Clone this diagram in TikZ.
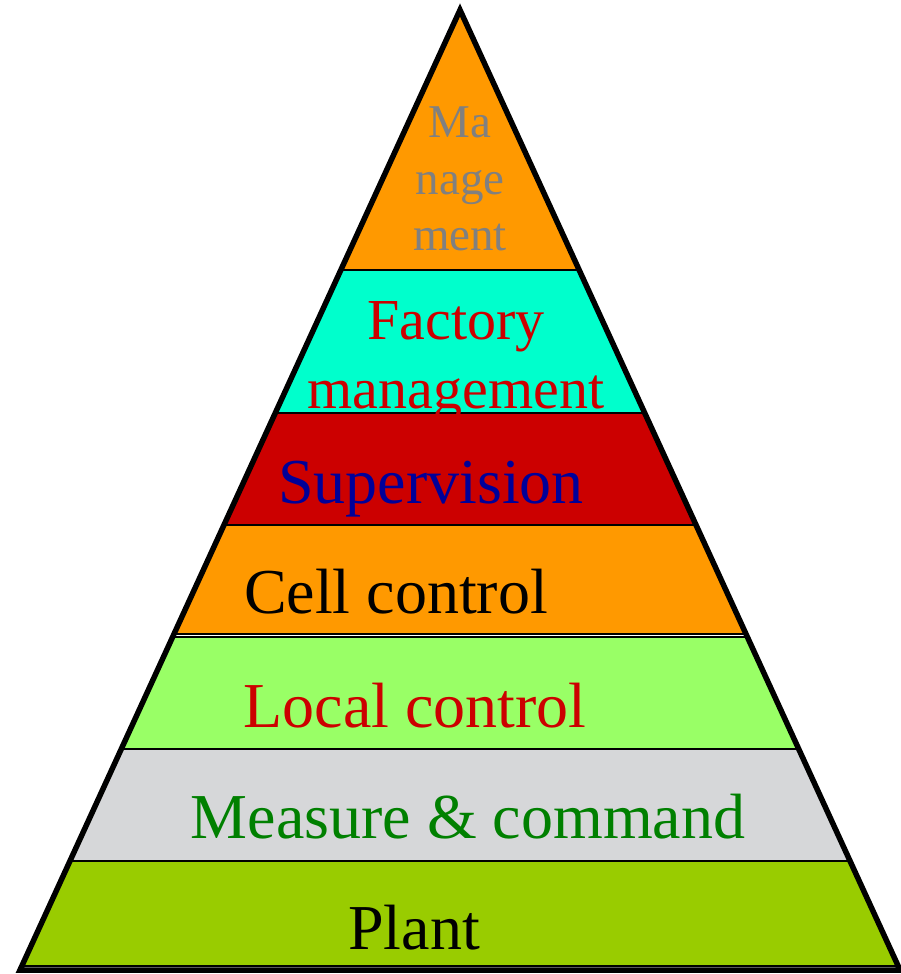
\documentclass[tikz,border=0pt]{standalone}
\usepackage{fontspec}
\setmainfont{Liberation Serif}
\definecolor{bandorange}{HTML}{FF9900}
\definecolor{bandcyan}{HTML}{00FFCC}
\definecolor{bandred}{HTML}{CC0000}
\definecolor{bandlime}{HTML}{99FF66}
\definecolor{bandgrey}{HTML}{D6D7D9}
\definecolor{bandolive}{HTML}{99CC00}
\definecolor{txtgrey}{HTML}{808080}
\definecolor{txtred}{HTML}{CC0000}
\definecolor{txtblue}{HTML}{000099}
\definecolor{txtgreen}{HTML}{008000}
\begin{document}
\begin{tikzpicture}[x=1pt,y=-1pt,
  band/.style={draw=black,line width=1.3pt},
  lbl/.style={inner sep=0pt,anchor=base,font=\fontsize{64}{70}\selectfont},
  lblsmall/.style={inner sep=0pt,anchor=base,font=\fontsize{47}{52}\selectfont},
  lblmid/.style={inner sep=0pt,anchor=base,font=\fontsize{58}{64}\selectfont},
  outline/.style={draw=black,line width=5.5pt,line join=miter}]
\useasboundingbox (0,0) rectangle (901,974);
\coordinate (apex) at (460,10);
\coordinate (bl) at (20,970);
\coordinate (br) at (900,970);
% layers, cut to the pyramid outline
\begin{scope}
  \clip (apex) -- (bl) -- (br) -- cycle;
  \filldraw[band,fill=bandorange] (0,0)   rectangle (901,270);
  \filldraw[band,fill=bandcyan]   (0,270) rectangle (901,413);
  \filldraw[band,fill=bandred]    (0,413) rectangle (901,525);
  \filldraw[band,fill=bandorange] (0,525) rectangle (901,634);
  \filldraw[band,fill=bandlime]   (0,637) rectangle (901,749);
  \filldraw[band,fill=bandgrey]   (0,749) rectangle (901,861);
  \filldraw[band,fill=bandolive]  (0,861) rectangle (901,966);
\end{scope}
\draw[outline] (apex) -- (bl) -- (br) -- cycle;
% layer names
\node[lblsmall,text=txtgrey] (mgt1) at (460,137) {Ma};
\node[lblsmall,text=txtgrey] (mgt2) at (460,194) {nage};
\node[lblsmall,text=txtgrey] (mgt3) at (460,250) {ment};
\node[lblmid,text=txtred] (fac1) at (456,339) {Factory};
\node[lblmid,text=txtred] (fac2) at (456,408) {management};
\node[lbl,text=txtblue] (sup) at (431,503) {Supervision};
\node[lbl,text=black] (cell) at (396,613) {Cell control};
\node[lbl,text=txtred] (local) at (415,727) {Local control};
\node[lbl,text=txtgreen] (meas) at (468,838) {Measure \& command};
\node[lbl,text=black] (plant) at (414,949) {Plant};
\end{tikzpicture}
\end{document}
